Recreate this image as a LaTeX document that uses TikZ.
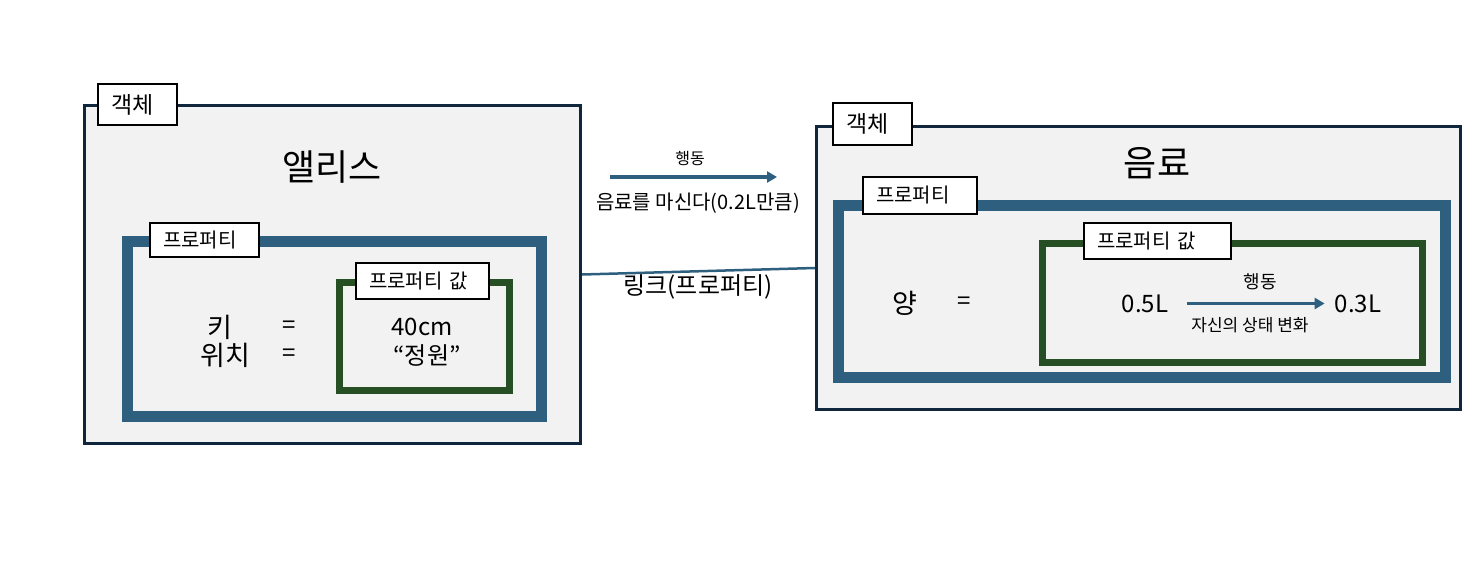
\documentclass[tikz,border=0pt]{standalone}
\usepackage{fontspec}
\setmainfont{Noto Sans CJK KR}
\usetikzlibrary{arrows.meta}
\definecolor{navy}{HTML}{10263C}
\definecolor{pblue}{HTML}{2E5F7F}
\definecolor{pgreen}{HTML}{265023}
\definecolor{bgray}{HTML}{F2F2F2}
\tikzset{
  objbox/.style={draw=navy, line width=3pt, fill=bgray, inner sep=0pt},
  propbox/.style={draw=pblue, line width=11pt, inner sep=0pt},
  valbox/.style={draw=pgreen, line width=7pt, inner sep=0pt},
  tag/.style={draw=black, line width=1.2pt, fill=white, inner xsep=13pt, inner ysep=0pt, align=left},
  tagfont/.style={font=\fontsize{20}{24}\selectfont},
  big/.style={font=\fontsize{36}{40}\selectfont, inner sep=1pt},
  mid/.style={font=\fontsize{24}{28}\selectfont, inner sep=1pt},
  midk/.style={font=\fontsize{27}{30}\selectfont, inner sep=1pt},
  small/.style={font=\fontsize{17}{20}\selectfont, inner sep=1pt},
  conn/.style={draw=pblue, line width=3.5pt, -{Triangle[length=10pt,width=11pt]}},
}
\begin{document}
\begin{tikzpicture}[x=1pt,y=-1pt]
\useasboundingbox (0,0) rectangle (1484,570);
% ---------- left object ----------
\node[objbox, minimum width=496pt, minimum height=338pt] (lobj) at (332.5,274.5) {};
\node[tag, text width=53pt, minimum height=41pt, font=\fontsize{23}{26}\selectfont] (ltag) at (137.5,104.5) {객체};
\node[big] (alice) at (332,167) {앨리스};
\node[propbox, minimum width=414pt, minimum height=175pt] (lprop) at (334.5,329) {};
\node[tag, tagfont, text width=83pt, minimum height=34pt] (lptag) at (204.5,240) {프로퍼티};
\node[valbox, minimum width=170pt, minimum height=108pt] (lval) at (424.5,336.5) {};
\node[tag, tagfont, text width=107pt, minimum height=36pt] (lvtag) at (422.5,281) {프로퍼티 값};
\node[midk] (key) at (220,327) {키};
\node[midk] (pos) at (225,355) {위치};
\node[mid] (eq1) at (289,327) {=};
\node[mid] (eq2) at (289,355) {=};
\node[mid] (v40) at (422,327) {40cm};
\node[mid] (vjw) at (427,355) {“정원”};
% ---------- right object ----------
\node[objbox, minimum width=644pt, minimum height=283pt] (robj) at (1138.5,268) {};
\node[tag, text width=53pt, minimum height=42pt, font=\fontsize{23}{26}\selectfont] (rtag) at (872.5,124) {객체};
\node[big] (drink) at (1157,163) {음료};
\node[propbox, minimum width=607.5pt, minimum height=172pt] (rprop) at (1141.75,291.5) {};
\node[tag, tagfont, text width=88pt, minimum height=37pt] (rptag) at (920,195.5) {프로퍼티};
\node[valbox, minimum width=380pt, minimum height=119pt] (rval) at (1232.5,303) {};
\node[tag, tagfont, text width=121pt, minimum height=36pt] (rvtag) at (1157.5,241) {프로퍼티 값};
\node[midk] (amt) at (905,303) {양};
\node[mid] (eq3) at (964,303) {=};
\node[mid] (v05) at (1145,303.5) {0.5L};
\node[mid] (v03) at (1358,303.5) {0.3L};
\draw[conn, shorten <=18pt, shorten >=9pt] (v05.east) -- (v03.west);
\node[font=\fontsize{18}{21}\selectfont, inner sep=1pt] (act2) at (1260,282) {행동};
\node[small] (chg) at (1250,325) {자신의 상태 변화};
% ---------- middle ----------
\coordinate (m1) at (610,177);
\coordinate (m2) at (777,177);
\draw[conn] (m1) -- (m2);
\node[font=\fontsize{16}{19}\selectfont, inner sep=1pt] (act1) at (690,158) {행동};
\node[font=\fontsize{20}{24}\selectfont, inner sep=1pt] (drinkact) at (698,203) {음료를 마신다(0.2L만큼)};
\draw[draw=pblue, line width=2.5pt] (lobj.east) -- (robj.west);
\node[font=\fontsize{24}{28}\selectfont, inner sep=1pt] (link) at (698,287) {링크(프로퍼티)};
\end{tikzpicture}
\end{document}
